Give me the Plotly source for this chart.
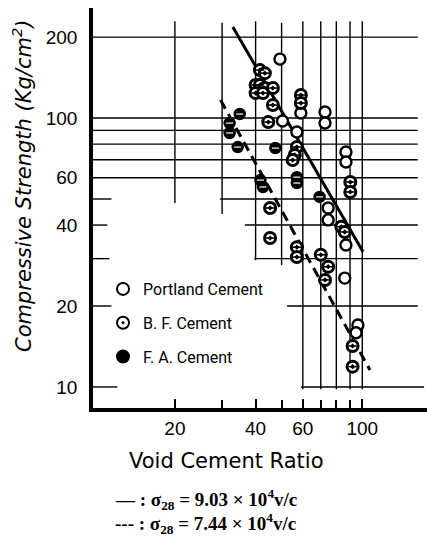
import plotly.graph_objects as go

# ---------------- data ----------------
portland_vc = [49.3, 50.4, 57.0, 59.0, 72.6, 72.6, 74.6, 74.6, 86.9, 86.9, 86.9, 86.0, 96.3, 94.8]
portland_s  = [165.7, 97.5, 88.7, 104.4, 105.3, 95.8, 46.3, 41.8, 74.8, 68.6, 33.7, 25.4, 17.0, 15.9]

bf_vc = [41.5, 43.3, 40.0, 41.5, 43.3, 46.4, 40.0, 42.6, 46.4, 44.6, 45.3, 45.3,
         59.0, 59.0, 57.0, 56.0, 55.0, 90.2, 90.2, 83.5, 86.0, 57.0, 57.0,
         70.0, 74.6, 72.6, 92.0, 92.0]
bf_s  = [150.8, 146.9, 132.7, 132.7, 129.3, 129.3, 123.8, 123.8, 111.8, 96.6, 46.3, 35.8,
         121.8, 113.7, 78.0, 72.9, 69.8, 57.8, 53.1, 39.4, 37.7, 33.1, 30.4,
         31.0, 28.0, 25.0, 14.2, 11.9]

fa_vc = [34.9, 32.0, 32.0, 34.3, 41.7, 42.6, 47.4, 57.0, 57.0, 69.3]
fa_s  = [103.5, 95.8, 88.0, 78.0, 58.8, 55.4, 77.3, 60.3, 57.3, 50.9]

# regression lines (end points)
solid_vc = [32.9, 100.6]
solid_s = [218.0, 31.8]
dashed_vc = [29.6, 106.8]
dashed_s = [116.7, 11.56]

x_tickvals = [20, 40, 60, 100]
x_ticktext = ["20", "40", "60", "100"]
x_minor = [30, 50, 70, 80, 90]
y_tickvals = [10, 20, 40, 60, 100, 200]
y_ticktext = ["10", "20", "40", "60", "100", "200"]

# log-paper grid pieces: (value, from, to)
h_grid = [(200, 9.9, 161), (100, 9.9, 161), (90, 9.9, 161), (80, 9.9, 161), (70, 9.9, 161), (60, 9.9, 161),
          (50, 9.9, 11.6), (50, 29.5, 161), (40, 9.9, 11.2), (40, 36.5, 161),
          (30, 9.9, 11.4), (30, 39.5, 161), (20, 9.9, 11.6), (20, 52.4, 161),
          (10, 9.9, 12.2), (10, 59.0, 170)]
v_grid = [(20, 229, 48.3), (30, 226, 44.0), (40, 229, 29.6), (50, 226, 28.4),
          (60, 229, 9.8), (70, 229, 9.8), (80, 229, 9.8), (90, 229, 9.8), (100, 229, 9.8)]

HAND = "DejaVu Sans, sans-serif"
LEG = "Roboto, DejaVu Sans, sans-serif"
TICK = "Liberation Sans, Arial, sans-serif"

gx, gy = [], []
for v, a, b in h_grid:
    gx += [a, b, None]
    gy += [v, v, None]
for v, a, b in v_grid:
    gx += [v, v, None]
    gy += [a, b, None]

fig = go.Figure()
fig.add_trace(go.Scatter(x=gx, y=gy, mode="lines", line=dict(color="black", width=1.4),
                         showlegend=False, hoverinfo="skip"))
fig.add_trace(go.Scatter(x=solid_vc, y=solid_s, mode="lines", line=dict(color="black", width=3),
                         showlegend=False, hoverinfo="skip"))
fig.add_trace(go.Scatter(x=dashed_vc, y=dashed_s, mode="lines",
                         line=dict(color="black", width=3, dash="10px,6px"),
                         showlegend=False, hoverinfo="skip"))

fig.add_trace(go.Scatter(x=portland_vc, y=portland_s, mode="markers", name="Portland Cement",
                         legendgroup="a",
                         marker=dict(symbol="circle", size=11, color="white",
                                     line=dict(color="black", width=2.4))))
fig.add_trace(go.Scatter(x=bf_vc, y=bf_s, mode="markers", name="B. F. Cement",
                         legendgroup="b",
                         marker=dict(symbol="circle-dot", size=11, color="white",
                                     line=dict(color="black", width=3))))
fig.add_trace(go.Scatter(x=bf_vc, y=bf_s, mode="markers", showlegend=False, hoverinfo="skip",
                         marker=dict(symbol="line-ew", size=6, color="black",
                                     line=dict(color="black", width=1.5))))
fig.add_trace(go.Scatter(x=fa_vc, y=fa_s, mode="markers", name="F. A. Cement",
                         legendgroup="c",
                         marker=dict(symbol="circle", size=11, color="black",
                                     line=dict(color="black", width=1.5))))
fig.add_trace(go.Scatter(x=fa_vc, y=fa_s, mode="markers", showlegend=False, hoverinfo="skip",
                         marker=dict(symbol="line-ew", size=5, color="white",
                                     line=dict(color="white", width=1.2))))

fig.update_layout(
    width=427, height=543,
    margin=dict(l=93, r=0, t=8, b=135),
    paper_bgcolor="white", plot_bgcolor="white",
    showlegend=True,
    legend=dict(x=0.03, y=0.34, xanchor="left", yanchor="top",
                bgcolor="rgba(0,0,0,0)", tracegroupgap=10,
                font=dict(family=LEG, size=16, color="black"),
                itemsizing="constant"),
    xaxis=dict(type="log", range=[0.9956, 2.2413], showgrid=False, zeroline=False,
               showline=True, linecolor="black", linewidth=3.5,
               tickvals=x_tickvals, ticktext=x_ticktext, ticks="inside", ticklen=9,
               tickwidth=1.5, tickcolor="black", ticklabelstandoff=0,
               minor=dict(tickvals=x_minor, ticks="inside", ticklen=8, tickwidth=1.5,
                          tickcolor="black", showgrid=False),
               tickfont=dict(family=TICK, size=19, color="black")),
    yaxis=dict(type="log", range=[0.9217, 2.4093], showgrid=False, zeroline=False,
               showline=True, linecolor="black", linewidth=3.5,
               tickvals=y_tickvals, ticktext=y_ticktext, ticks="",
               ticklabelstandoff=8,
               tickfont=dict(family=TICK, size=19, color="black")),
    annotations=[
        dict(text="Compressive Strength (Kg/cm<sup>2</sup>)", xref="paper", yref="paper",
             x=-0.2126, y=0.5575, textangle=-90, showarrow=False, xanchor="center", yanchor="middle",
             font=dict(family=HAND, size=21, color="black", style="italic")),
        dict(text="Void Cement Ratio", xref="paper", yref="paper",
             x=0.401, y=-0.1325, showarrow=False, xanchor="center", yanchor="middle",
             font=dict(family=HAND, size=21, color="black")),
        dict(text="<b>— : σ<sub>28</sub> = 9.03 × 10<sup>4</sup>v/c</b>", xref="paper", yref="paper",
             x=0.06, y=-0.2275, showarrow=False, xanchor="left", yanchor="middle",
             font=dict(family="Liberation Serif, serif", size=19, color="black")),
        dict(text="<b>--- : σ<sub>28</sub> = 7.44 × 10<sup>4</sup>v/c</b>", xref="paper", yref="paper",
             x=0.06, y=-0.2875, showarrow=False, xanchor="left", yanchor="middle",
             font=dict(family="Liberation Serif, serif", size=19, color="black")),
    ],
)

fig.write_html("out.html")
